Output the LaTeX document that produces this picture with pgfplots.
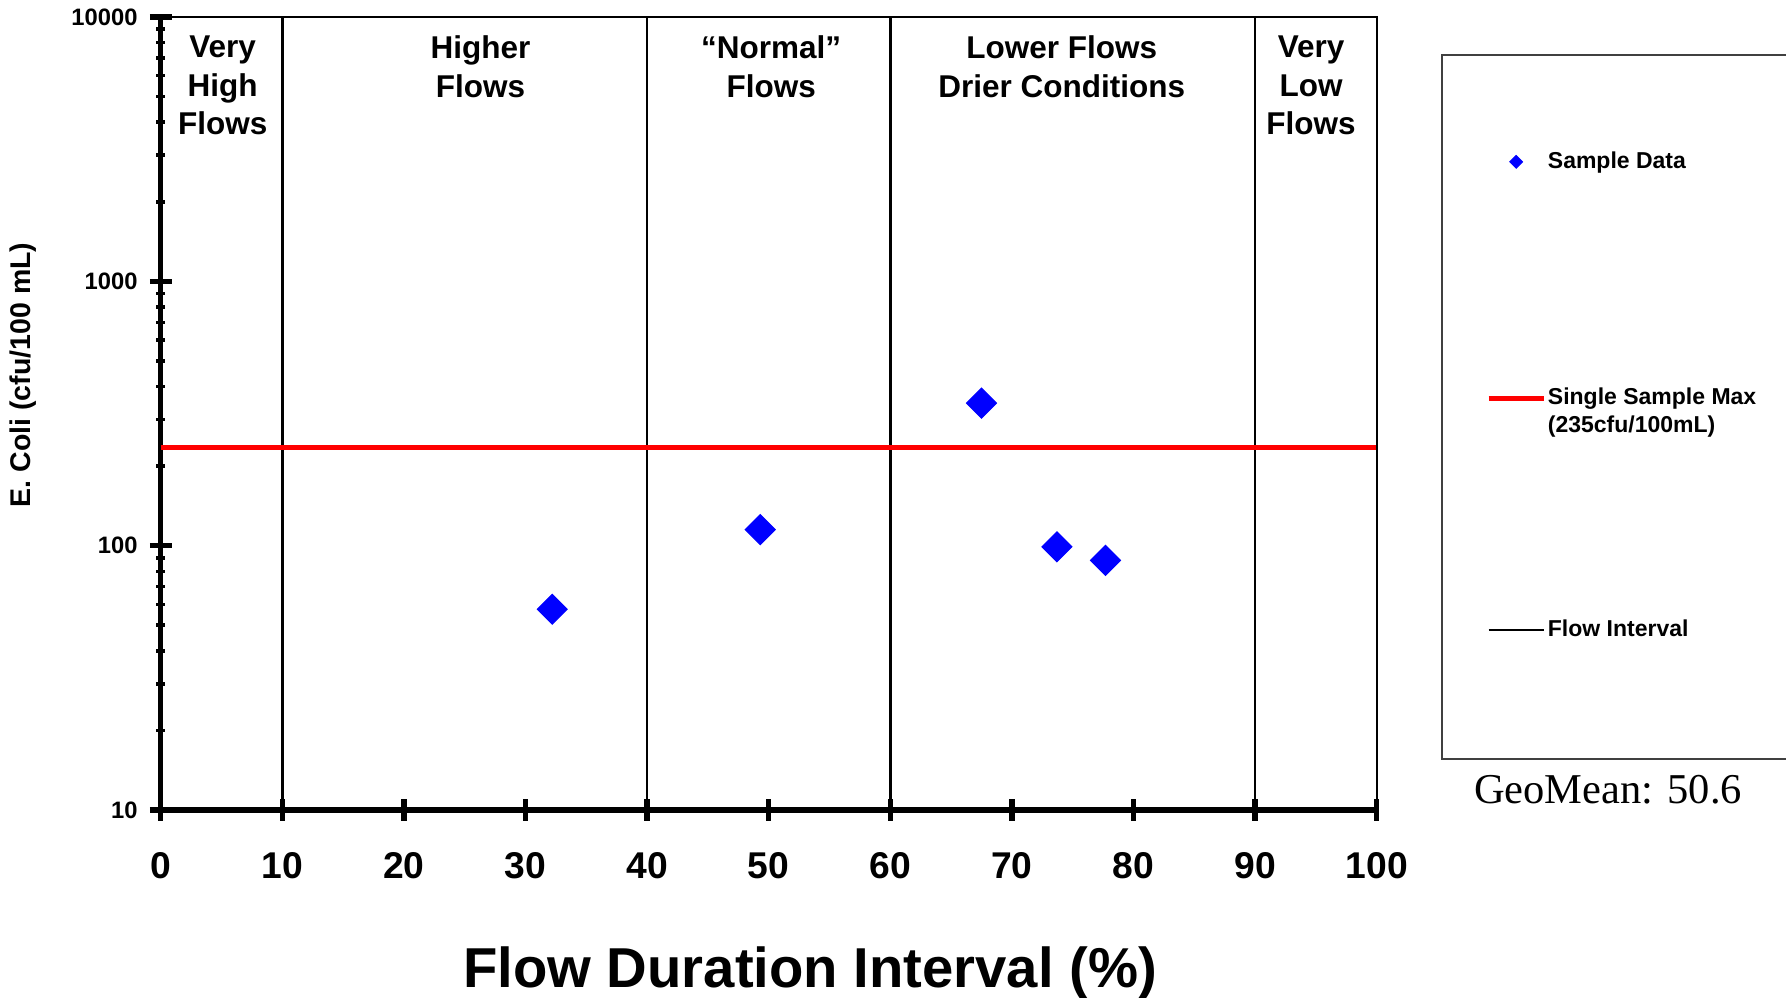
\documentclass[border=0pt]{standalone}
\usepackage{pgfplots}
\pgfplotsset{compat=1.18}
\usepackage{fontspec}
\setmainfont{Liberation Sans}
\newfontfamily\timesfont{Liberation Serif}
\newcommand\legtext[1]{\smash{\raisebox{-3.4pt}{#1}}}
\begin{document}
\begin{tikzpicture}
\path[use as bounding box] (0,0) rectangle (714.4pt,-398.8pt);
\clip (0,0) rectangle (714.4pt,-398.8pt);
\begin{axis}[
  at={(64.28pt,-324pt)}, anchor=south west,
  scale only axis, width=486.4pt, height=317.2pt,
  xmin=0, xmax=100, ymin=10, ymax=10000,
  ymode=log,
  axis x line*=bottom, axis y line*=left,
  axis line style={line width=2.2pt, black},
  xtick={0,10,20,30,40,50,60,70,80,90,100},
  xticklabels={0,10,20,30,40,50,60,70,80,90,100},
  ytick={10,100,1000,10000},
  yticklabels={10,100,1000,10000},
  minor ytick={20,30,40,50,60,70,80,90,200,300,400,500,600,700,800,900,2000,3000,4000,5000,6000,7000,8000,9000},
  tick align=center,
  major tick length=8.7pt, minor tick length=3.5pt,
  every tick/.style={black, line width=2.2pt},
  minor tick style={line width=1.4pt},
  xticklabel style={font=\fontsize{14.9}{17}\selectfont\bfseries, yshift=-9.1pt},
  yticklabel style={font=\fontsize{9.5}{11}\selectfont\bfseries, xshift=-1.4pt},
  xlabel={Flow Duration Interval (\%)},
  xlabel style={font=\fontsize{22.5}{26}\selectfont\bfseries, at={(axis description cs:0.534,-0.205)}, anchor=center},
  ylabel={E. Coli (cfu/100 mL)},
  ylabel style={font=\fontsize{11.4}{13}\selectfont\bfseries, at={(axis description cs:-0.1135,0.5486)}, anchor=center},
  legend style={draw=none, fill=none, inner sep=0pt, at={(axis description cs:1.0896,0.826)}, anchor=north west, row sep=91pt, column sep=0.7pt, font=\fontsize{9.2}{11.6}\selectfont\bfseries, nodes={inner sep=0pt}},
  legend cell align=left,
  clip=false,
]
\addlegendimage{legend image code/.code={\path[only marks, mark=square*, mark size=1.8pt, mark options={rotate=45, fill=blue, draw=blue}, mark repeat=2, mark phase=2] plot coordinates {(0pt,0pt) (11pt,0pt) (22pt,0pt)};}}
\addlegendentry{\legtext{Sample Data}}
\addlegendimage{legend image code/.code={\draw[red, line width=2pt] (0pt,0pt) -- (22pt,0pt);}}
\addlegendentry{\legtext{\begin{tabular}[t]{@{}l@{}}Single Sample Max\\[-0.7pt](235cfu/100mL)\end{tabular}}}
\addlegendimage{legend image code/.code={\draw[black, line width=0.9pt] (0pt,0pt) -- (22pt,0pt);}}
\addlegendentry{\legtext{Flow Interval}}

\addplot[black, line width=1pt, forget plot] coordinates {(10,10) (10,10000)};
\addplot[black, line width=1pt, forget plot] coordinates {(40,10) (40,10000)};
\addplot[black, line width=1pt, forget plot] coordinates {(60,10) (60,10000)};
\addplot[black, line width=1pt, forget plot] coordinates {(90,10) (90,10000)};
\addplot[red, line width=1.9pt, forget plot] coordinates {(0,235) (100,235)};
\addplot[only marks, mark=square*, mark size=4.24pt, mark options={rotate=45, fill=blue, draw=blue}, forget plot] coordinates {
(32.2,57.5) (49.3,115) (67.5,346) (73.7,99) (77.7,88)
};
\draw[black, line width=0.8pt] (rel axis cs:0,1) -- (rel axis cs:1,1) -- (rel axis cs:1,0);
\begin{scope}[every node/.style={font=\fontsize{12.6}{15.5}\selectfont\bfseries, align=center, anchor=north, inner sep=0pt, yshift=-7.3pt}]
\node at (axis cs:5.1,10000) {Very\\High\\Flows};
\node at (axis cs:26.3,10000) {Higher\\Flows};
\node at (axis cs:50.2,10000) {“Normal”\\Flows};
\node at (axis cs:74.1,10000) {Lower Flows\\Drier Conditions};
\node at (axis cs:94.6,10000) {Very\\Low\\Flows};
\end{scope}
\end{axis}
\draw[black!75, line width=0.6pt] (576.8pt,-22pt) rectangle (730pt,-303.6pt);
\node[font=\timesfont\fontsize{17}{20}\selectfont, inner sep=0pt] at (643.2pt,-316pt) {GeoMean: 50.6};
\end{tikzpicture}
\end{document}
